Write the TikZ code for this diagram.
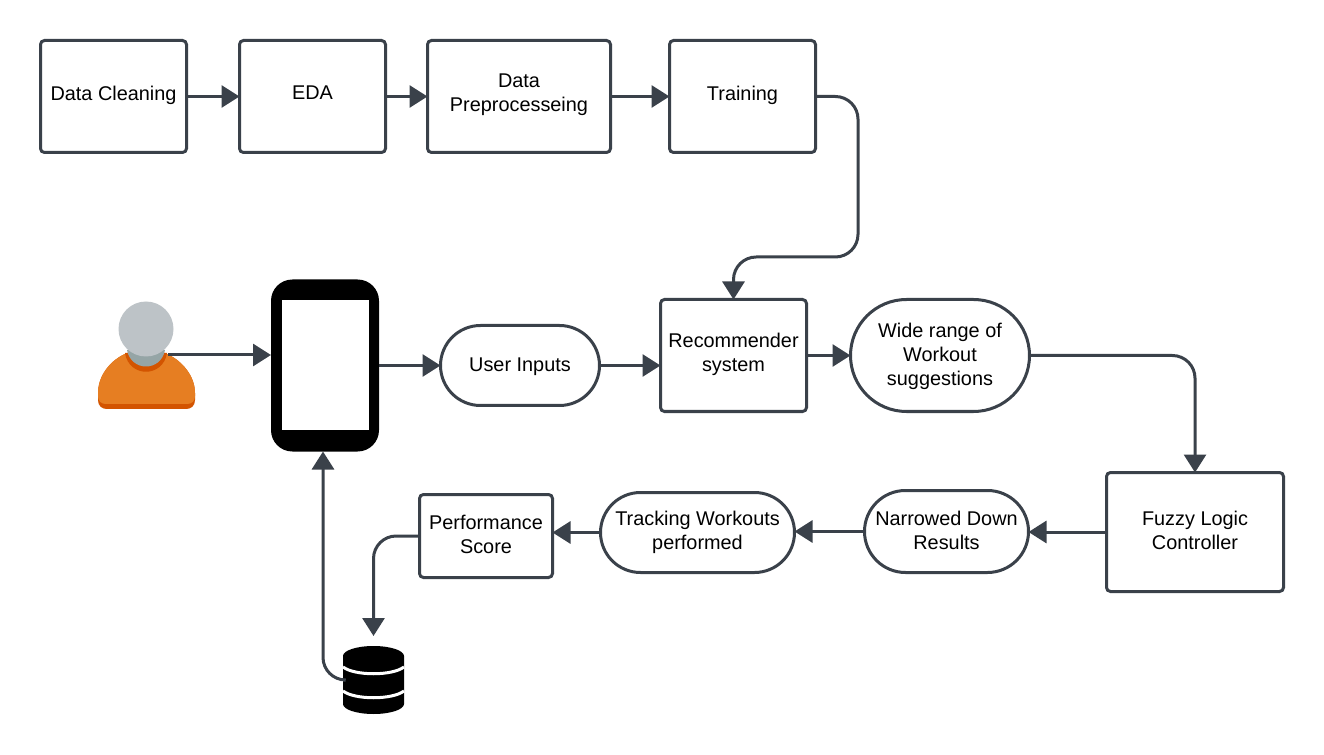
\documentclass[tikz,border=0pt]{standalone}
\usepackage{fontspec}
\setmainfont{Liberation Sans}
\usetikzlibrary{arrows.meta,shapes.misc}
\definecolor{linegray}{HTML}{3A414A}
\definecolor{headgray}{HTML}{BDC3C7}
\definecolor{neckgray}{HTML}{95A5A6}
\definecolor{shirtorange}{HTML}{E67E22}
\definecolor{shirtdark}{HTML}{D35400}
\tikzset{
 stepbox/.style={draw=linegray,line width=2.25pt,rounded corners=3pt,align=center,outer sep=0pt,inner sep=0pt,font=\fontsize{14.9}{18}\selectfont},
 pillbox/.style={draw=linegray,line width=2.25pt,rounded rectangle,align=center,outer sep=0pt,inner sep=0pt,font=\fontsize{14.9}{18}\selectfont},
 flow/.style={draw=linegray,line width=2.25pt,rounded corners=17pt,-{Triangle[length=13.5pt,width=16.5pt]}},
}
\begin{document}
\begin{tikzpicture}[x=0.75pt,y=-0.75pt]
 \useasboundingbox (0,0) rectangle (1324,755);
 \node[stepbox,minimum width=109.5pt,minimum height=84pt,text depth=5.2pt] (clean) at (113.5,96.5) {Data Cleaning};
 \node[stepbox,minimum width=109.5pt,minimum height=84pt,text depth=5pt] (eda) at (312.5,96.5) {EDA};
 \node[stepbox,minimum width=137.25pt,minimum height=84pt,text depth=5.5pt] (prep) at (519,96.5) {Data\\Preprocesseing};
 \node[stepbox,minimum width=109.5pt,minimum height=84pt,text depth=5.2pt] (train) at (742.5,96.5) {Training};
 \node[stepbox,minimum width=109.5pt,minimum height=84pt,text depth=5.2pt] (recomm) at (733.5,355.5) {Recommender\\system};
 \node[pillbox,minimum width=134.25pt,minimum height=84pt,text depth=1.7pt] (wide) at (940,355.5) {Wide range of\\Workout\\suggestions};
 \node[pillbox,minimum width=119.25pt,minimum height=60pt,text depth=1.7pt] (inputs) at (520,365.5) {User Inputs};
 \node[stepbox,minimum width=132.75pt,minimum height=89.25pt,text depth=3pt] (fuzzy) at (1195,532) {Fuzzy Logic\\Controller};
 \node[pillbox,minimum width=123pt,minimum height=61.5pt,text depth=1.5pt] (narrowed) at (946.5,531.5) {Narrowed Down\\Results};
 \node[pillbox,minimum width=145.5pt,minimum height=60pt] (tracking) at (697.5,532.5) {Tracking Workouts\\performed};
 \node[stepbox,minimum width=99.75pt,minimum height=62.25pt,text depth=3pt] (perf) at (486,536) {Performance\\Score};

 \node[fill=black,rounded corners=16pt,minimum width=81pt,minimum height=129pt,inner sep=0pt,outer sep=0pt] (phone) at (325,365.5) {};
 \node[fill=white,minimum width=65.25pt,minimum height=97.5pt,inner sep=0pt,outer sep=0pt] (screen) at (325.5,365) {};

 \node[minimum width=45.75pt,minimum height=52.5pt,inner sep=0pt,outer sep=0pt] (db) at (373.5,680) {};
 \fill[black] (343,656) arc[x radius=30.5,y radius=10,start angle=180,end angle=360]
  -- (404,704) arc[x radius=30.5,y radius=10,start angle=0,end angle=180] -- cycle;
 \draw[white,line width=2.25pt] (343,667) .. controls (355,676) and (392,676) .. (404,667);
 \draw[white,line width=2.25pt] (343,691) .. controls (355,700) and (392,700) .. (404,691);

 \fill[shirtdark] (98,393) .. controls (98,376) and (110,360) .. (127,353) -- (165,353)
  .. controls (182,360) and (195,376) .. (195,393) -- (195,400)
  .. controls (195,406) and (191,409) .. (186,409) -- (107,409)
  .. controls (102,409) and (98,406) .. (98,400) -- cycle;
 \fill[shirtorange] (98,393) .. controls (98,376) and (110,360) .. (127,353)
  .. controls (132,366) and (160,366) .. (165,353)
  .. controls (182,360) and (195,376) .. (195,393) -- (195,396)
  .. controls (195,401) and (192,404) .. (187,404) -- (106,404)
  .. controls (101,404) and (98,401) .. (98,396) -- cycle;
 \fill[shirtdark] (125,353) .. controls (129,378) and (163,378) .. (167,353) -- cycle;
 \fill[neckgray] (127,350) .. controls (131,372) and (161,372) .. (165,350) -- cycle;
 \fill[headgray] (146,329) circle (27.5);
 \coordinate (person) at (168,355);
 \coordinate (trainturn) at (858,257);

 \draw[flow] (clean.east) -- (eda.west);
 \draw[flow] (eda.east) -- (prep.west);
 \draw[flow] (prep.east) -- (train.west);
 \draw[flow] (train.east) -| (trainturn) -| (recomm.north);
 \draw[flow] (person) -- (person -| phone.west);
 \draw[flow] (phone.east) -- (inputs.west);
 \draw[flow] (inputs.east) -- (inputs.east -| recomm.west);
 \draw[flow] (recomm.east) -- (wide.west);
 \draw[flow] (wide.east) -| (fuzzy.north);
 \draw[flow] (fuzzy.west) -- (fuzzy.west -| narrowed.east);
 \draw[flow] (narrowed.west) -- (narrowed.west -| tracking.east);
 \draw[flow] (tracking.west) -- (tracking.west -| perf.east);
 \draw[flow,shorten >=6.75pt] (perf.west) -| (db.north);
 \draw[flow] (db.west) -| ([xshift=-1.5pt]phone.south);
\end{tikzpicture}
\end{document}
